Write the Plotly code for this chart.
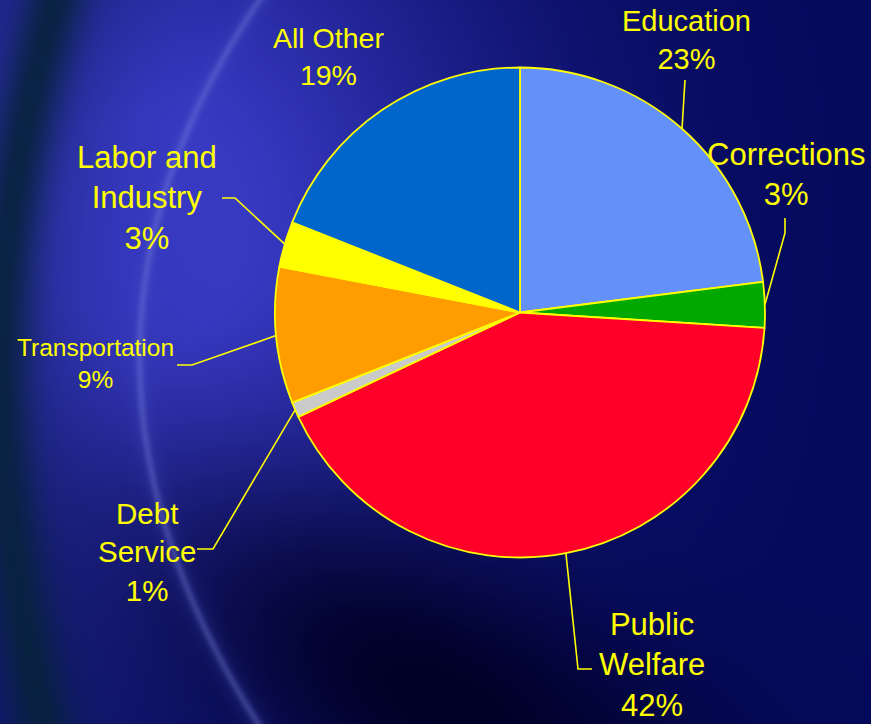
import base64
import struct
import zlib

import numpy as np
import plotly.graph_objects as go

# ---- data -------------------------------------------------------------
categories = ["Education", "Corrections", "Public Welfare", "Debt Service",
              "Transportation", "Labor and Industry", "All Other"]
shares = [23, 3, 42, 1, 9, 3, 19]
label_text = ["Education<br>23%", "Corrections<br>3%", "Public<br>Welfare<br>42%",
              "Debt<br>Service<br>1%", "Transportation<br>9%",
              "Labor and<br>Industry<br>3%", "All Other<br>19%"]
slice_colors = ["#6391F9", "#00A800", "#FF0028", "#CACACA",
                "#FF9C00", "#FFFF00", "#0066CC"]

# ---- canvas geometry ---------------------------------------------------
W, H = 871, 724
CX, CY, R = 520.0, 312.5, 245.0          # pie centre / radius in pixels
YELLOW = "#FFFF00"
FONT = "Liberation Sans, Arial, sans-serif"


def px(x, y):
    """pixel position -> paper fraction"""
    return x / W, 1 - y / H


# ---- backdrop: blue slide background with swoosh arcs ------------------
def backdrop():
    Y, X = np.mgrid[0:H, 0:W].astype(float)
    img = np.empty((H, W, 3))
    img[:] = (6, 10, 92)

    def blend(img, color, w):
        w = np.clip(w, 0, 1)[..., None]
        return img * (1 - w) + np.array(color, float)[None, None, :] * w

    # bright blue glow, upper left
    w = np.exp(-(((X - 150) / 240) ** 2 + ((Y - 230) / 290) ** 2) / 2)
    img = blend(img, (56, 58, 196), w * 1.08)
    # deep shadow, lower centre
    a = np.deg2rad(30)
    u = (X - 440) * np.cos(a) + (Y - 700) * np.sin(a)
    v = -(X - 440) * np.sin(a) + (Y - 700) * np.cos(a)
    w = np.exp(-((u / 230) ** 2 + (v / 105) ** 2) / 2)
    img = blend(img, (0, 0, 36), w * 0.97)

    rows = np.arange(H, dtype=float)

    def smooth_curve(ys, xs, deg):
        return np.polyval(np.polyfit(ys, xs, deg), rows)

    # dark teal band hugging the left edge
    xc = smooth_curve([0, 100, 200, 300, 400, 500, 600, 724],
                      [55, 30, 12, 2, 0, 6, 20, 42], 4)
    d = X - xc[:, None]
    img = blend(img, (14, 30, 95), np.exp(-(d / 70) ** 2 / 2) * 0.35)
    img = blend(img, (8, 34, 60), np.exp(-(d / 22) ** 2 / 2) * 0.9)

    # thin light arc
    xc = smooth_curve([0, 33, 100, 167, 233, 300, 362, 429, 495, 562, 629, 695, 724],
                      [262, 233, 200, 173, 157, 143, 137, 140, 157, 180, 207, 233, 262], 4)
    slope = np.gradient(xc)
    d = (X - xc[:, None]) / np.sqrt(1 + slope ** 2)[:, None]
    img = blend(img, (70, 80, 200), np.exp(-(d / 9) ** 2 / 2) * 0.16)
    img = blend(img, (120, 130, 220), np.exp(-(d / 3.0) ** 2 / 2) * 0.33)

    arr = np.clip(img, 0, 255).astype(np.uint8)
    raw = b"".join(b"\x00" + arr[r].tobytes() for r in range(H))

    def chunk(tag, data):
        return (struct.pack(">I", len(data)) + tag + data
                + struct.pack(">I", zlib.crc32(tag + data) & 0xFFFFFFFF))

    png = (b"\x89PNG\r\n\x1a\n"
           + chunk(b"IHDR", struct.pack(">IIBBBBB", W, H, 8, 2, 0, 0, 0))
           + chunk(b"IDAT", zlib.compress(raw, 9))
           + chunk(b"IEND", b""))
    return "data:image/png;base64," + base64.b64encode(png).decode()


# ---- pie ---------------------------------------------------------------
x0, y1 = px(CX - R, CY - R)
x1, y0 = px(CX + R, CY + R)
fig = go.Figure(go.Pie(
    labels=categories,
    values=shares,
    sort=False,
    direction="clockwise",
    rotation=0,
    marker=dict(colors=slice_colors, line=dict(color=YELLOW, width=1.8)),
    textinfo="none",
    hoverinfo="label+percent",
    showlegend=False,
    domain=dict(x=[x0, x1], y=[y0, y1]),
))

# ---- labels and leader lines -------------------------------------------
# label centre (px), font size, and leader bend/end points (px)
label_pos = [(686, 40), (786, 174), (652, 665), (147, 552),
             (95, 363), (147, 198), (328, 56)]
label_size = [29, 31, 31, 29.5, 24.5, 31, 28.5]
leader_path = [[(685, 80)],
               [(785, 233), (785, 218)],
               [(578, 669), (592, 669)],
               [(213, 549), (197, 549)],
               [(192, 365), (177, 365)],
               [(235, 198), (222, 198)],
               None]

total = float(sum(shares))
cum = 0.0
shapes = []
annotations = []
for i, v in enumerate(shares):
    mid = (cum + v / 2) / total * 2 * np.pi
    cum += v
    ax, ay = CX + R * np.sin(mid), CY - R * np.cos(mid)
    if leader_path[i]:
        pts = [(ax, ay)] + leader_path[i]
        path = "M " + " L ".join("%.5f,%.5f" % px(x, y) for x, y in pts)
        shapes.append(dict(type="path", path=path, xref="paper", yref="paper",
                           line=dict(color=YELLOW, width=1.6)))
    lx, ly = px(*label_pos[i])
    annotations.append(dict(
        x=lx, y=ly, xref="paper", yref="paper", text=label_text[i],
        showarrow=False, xanchor="center", yanchor="middle", align="center",
        borderpad=0,
        font=dict(family=FONT, size=label_size[i], color=YELLOW),
    ))

fig.update_layout(
    width=W, height=H,
    margin=dict(l=0, r=0, t=0, b=0),
    paper_bgcolor="#06095C",
    plot_bgcolor="rgba(0,0,0,0)",
    shapes=shapes,
    annotations=annotations,
    images=[dict(source=backdrop(), xref="paper", yref="paper", x=0, y=1,
                 sizex=1, sizey=1, xanchor="left", yanchor="top",
                 sizing="stretch", layer="below")],
)

fig.write_html("out.html", config={"displayModeBar": False})
